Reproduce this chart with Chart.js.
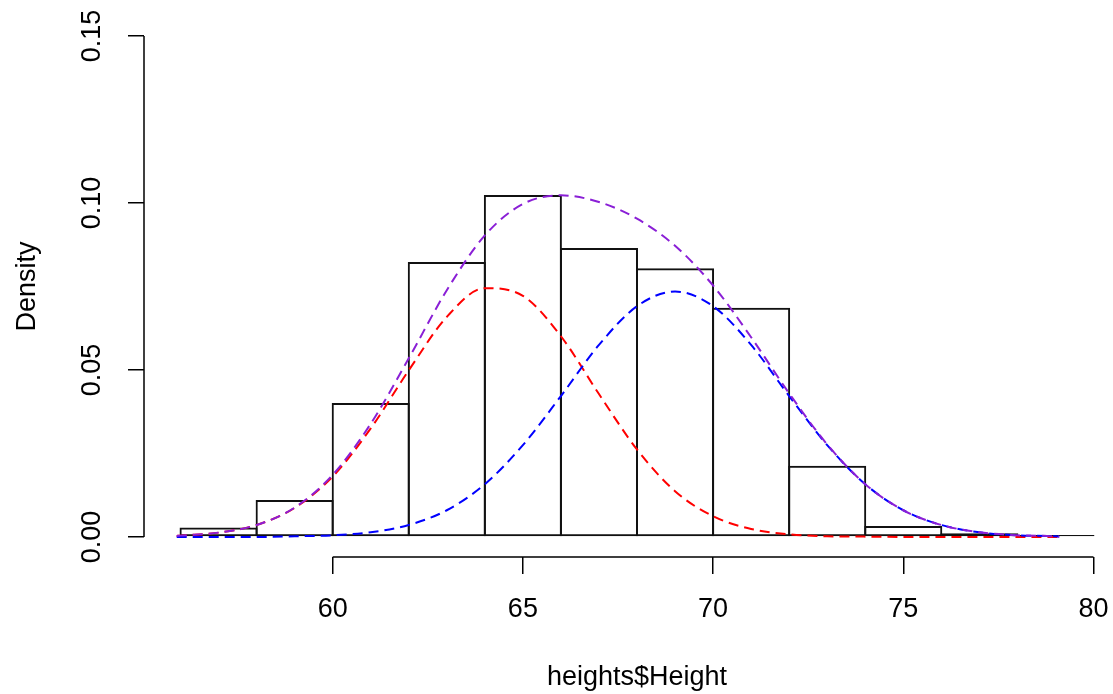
<!DOCTYPE html>
<html>
<head>
<meta charset="utf-8">
<title>heights histogram</title>
<script src="https://cdn.jsdelivr.net/npm/chart.js@4/dist/chart.umd.min.js"></script>
<style>
  html, body { margin: 0; padding: 0; background: #fff; overflow: hidden; }
  canvas { display: block; }
</style>
</head>
<body>
<canvas id="chart" width="1140" height="694"></canvas>
<script>
// histogram bins (width 2) and densities
const binMids = [57, 59, 61, 63, 65, 67, 69, 71, 73, 75, 77, 79];
const binDensity = [0.0028, 0.0111, 0.0401, 0.0823, 0.1024, 0.0865, 0.0805, 0.0686, 0.0213, 0.0033, 0.0011, 0.0006];

// fitted curves
const curveX = [55.9, 56, 57, 58, 59, 60, 61, 62, 63, 64, 65, 66, 67, 68, 69, 70, 71, 72, 73, 74, 75, 76, 77, 78, 79, 79.1];
const redCurve = [0.0003, 0.0004, 0.0013, 0.0036, 0.0087, 0.0181, 0.0325, 0.0499, 0.0659, 0.0745, 0.0722, 0.0601, 0.0428, 0.0262, 0.0137, 0.0062, 0.0024, 0.0008, 0.0002, 0.0001, 0, 0, 0, 0, 0, 0];
const blueCurve = [0, 0, 0, 0, 0.0002, 0.0005, 0.0014, 0.0036, 0.0080, 0.0158, 0.0275, 0.0422, 0.0575, 0.0691, 0.0735, 0.0691, 0.0575, 0.0422, 0.0275, 0.0158, 0.0080, 0.0036, 0.0014, 0.0005, 0.0002, 0.0001];
const purpleCurve = [0.0003, 0.0004, 0.0013, 0.0036, 0.0088, 0.0186, 0.0339, 0.0535, 0.0739, 0.0903, 0.0997, 0.1023, 0.1003, 0.0953, 0.0872, 0.0753, 0.0598, 0.0430, 0.0277, 0.0158, 0.0080, 0.0036, 0.0014, 0.0005, 0.0002, 0.0001];

const xTicks = [60, 65, 70, 75, 80];
const yTicks = [0, 0.05, 0.10, 0.15];

const FONT = '"Liberation Sans", Arial, Helvetica, sans-serif';

function pts(ys) {
    return curveX.map((x, i) => ({ x: x, y: ys[i] }));
}

function curve(label, color, ys, order) {
    return {
        type: 'line', label: label, data: pts(ys), order: order,
        borderColor: color, borderWidth: 2, borderDash: [10, 6],
        pointRadius: 0, fill: false, cubicInterpolationMode: 'monotone'
    };
}

// R draws its axes only across the tick range
const axisLines = {
    id: 'axisLines',
    afterDraw(chart) {
        const { ctx, scales: { x, y } } = chart;
        ctx.save();
        ctx.strokeStyle = '#000';
        ctx.lineWidth = 1.5;
        ctx.beginPath();
        ctx.moveTo(x.getPixelForValue(xTicks[0]), x.top);
        ctx.lineTo(x.getPixelForValue(xTicks[xTicks.length - 1]), x.top);
        ctx.moveTo(y.right, y.getPixelForValue(yTicks[0]));
        ctx.lineTo(y.right, y.getPixelForValue(yTicks[yTicks.length - 1]));
        ctx.stroke();
        ctx.restore();
    }
};

new Chart(document.getElementById('chart'), {
    type: 'bar',
    data: {
        datasets: [
            curve('mixture', '#8a1fd6', purpleCurve, 0),
            curve('component 2', '#0000ff', blueCurve, 1),
            curve('component 1', '#ff0000', redCurve, 2),
            {
                type: 'bar', label: 'heights', order: 3,
                data: binMids.map((m, i) => ({ x: m, y: binDensity[i] })),
                backgroundColor: 'rgba(0,0,0,0)', borderColor: '#111',
                borderWidth: 2, borderSkipped: false,
                barPercentage: 1.026, categoryPercentage: 1, grouped: false
            }
        ]
    },
    options: {
        responsive: false,
        animation: false,
        layout: { padding: { top: 16, right: 10, left: 0, bottom: 0 } },
        plugins: { legend: { display: false }, tooltip: { enabled: false }, title: { display: false } },
        scales: {
            x: {
                type: 'linear', min: 55.04, max: 80.96, offset: false,
                afterBuildTicks: s => { s.ticks = xTicks.map(v => ({ value: v })); },
                afterFit: s => { s.height = 137; s.paddingLeft = 0; s.paddingRight = 0; },
                border: { display: false },
                grid: { offset: false, drawOnChartArea: false, drawTicks: true, tickLength: 17, color: '#000', lineWidth: 1.5 },
                ticks: { color: '#000', font: { family: FONT, size: 27 }, padding: 19, maxRotation: 0, autoSkip: false },
                title: { display: true, text: 'heights$Height', color: '#000', font: { family: FONT, size: 27 }, padding: 0 }
            },
            y: {
                type: 'linear', min: -0.006, max: 0.156,
                afterBuildTicks: s => { s.ticks = yTicks.map(v => ({ value: v })); },
                afterFit: s => { s.width = 144; s.paddingTop = 0; s.paddingBottom = 0; },
                border: { display: false },
                grid: { offset: false, drawOnChartArea: false, drawTicks: true, tickLength: 16, color: '#000', lineWidth: 1.5 },
                ticks: {
                    color: '#000', font: { family: FONT, size: 27 }, padding: 9,
                    minRotation: 90, maxRotation: 90, crossAlign: 'center', autoSkip: false,
                    callback: v => v.toFixed(2)
                },
                title: { display: true, text: 'Density', color: '#000', font: { family: FONT, size: 27 }, padding: 11 }
            }
        }
    },
    plugins: [axisLines]
});
</script>
</body>
</html>
